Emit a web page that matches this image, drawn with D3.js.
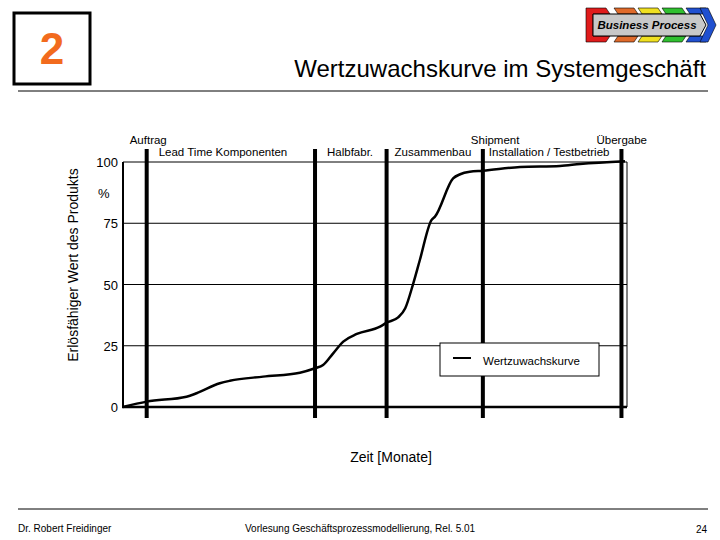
<!DOCTYPE html>
<html><head><meta charset="utf-8">
<script src="https://cdn.jsdelivr.net/npm/d3@7"></script>
<style>
html,body{margin:0;padding:0;background:#fff;}
svg{display:block;font-family:"Liberation Sans",Arial,sans-serif;}
</style></head>
<body>
<svg id="c" width="720" height="540"></svg>
<script>
// ---- data ----
const timePoints = [0, 4.7, 12.6, 14.6, 19.2, 21.2, 27.8, 35.1, 38.1, 39.7, 41.7, 43.7, 46.4, 51.0, 52.3, 54.6, 56.0, 57.6, 58.9, 61.2, 61.9, 65.5, 66.9, 68.8, 71.4, 78.8, 86.7, 90.7, 99.6];
const valuePoints = [0, 2.2, 4.2, 5.6, 9.7, 10.7, 12.4, 14.0, 15.8, 17.1, 21.9, 26.7, 29.8, 32.8, 34.4, 36.6, 40.3, 50.5, 60.0, 76.3, 77.7, 93.3, 95.0, 96.0, 96.4, 98.0, 98.4, 99.2, 100.3];
const phasePositions = [4.7, 38.1, 52.3, 71.4, 98.9];
const milestoneLabels = ["Auftrag", "Shipment", "Übergabe"];
const milestoneAt = [4.7, 71.4, 98.9];
const phaseLabels = ["Lead Time Komponenten", "Halbfabr.", "Zusammenbau", "Installation / Testbetrieb"];
const phaseLabelAt = [4.7, 38.1, 52.3, 71.4];
const yTicks = [0, 25, 50, 75, 100];
const seriesName = "Wertzuwachskurve";

const svg = d3.select("#c");
const x = d3.scaleLinear().domain([0, 100]).range([123, 627]);
const y = d3.scaleLinear().domain([0, 100]).range([407, 162]);

// ---- header ----
svg.append("rect").attr("x", 14).attr("y", 13).attr("width", 76).attr("height", 71)
  .attr("fill", "none").attr("stroke", "#000").attr("stroke-width", 3);
svg.append("text").attr("x", 52).attr("y", 64).attr("text-anchor", "middle")
  .attr("font-size", 44).attr("font-weight", "bold").attr("fill", "#f26b1d").text("2");
svg.append("text").attr("x", 706).attr("y", 77).attr("text-anchor", "end")
  .attr("font-size", 24).attr("fill", "#000").text("Wertzuwachskurve im Systemgeschäft");
svg.append("line").attr("x1", 18).attr("x2", 708).attr("y1", 91).attr("y2", 91)
  .attr("stroke", "#000").attr("stroke-width", 1);

// logo
const logo = svg.append("g");
const cols = ["#e01b1b", "#e06a2a", "#f0e020", "#30c030", "#2050d0"];
const segX = [590, 614, 638, 662, 686];
segX.forEach((sx, i) => {
  if (i === 0) return;
  logo.append("polygon").attr("points", `${sx},8 ${sx+20},8 ${sx+24},14 ${sx+4},14`).attr("fill", cols[i]).attr("stroke", "#000").attr("stroke-width", 0.6);
  logo.append("polygon").attr("points", `${sx+4},36 ${sx+24},36 ${sx+20},42 ${sx},42`).attr("fill", cols[i]).attr("stroke", "#000").attr("stroke-width", 0.6);
});
logo.append("polygon").attr("points", "586,8 606,8 610,14 593,14 593,36 610,36 606,42 586,42")
  .attr("fill", cols[0]).attr("stroke", "#000").attr("stroke-width", 0.6);
logo.append("polygon").attr("points", "700,8 708,8 716,25 708,42 700,42 708,25")
  .attr("fill", cols[4]).attr("stroke", "#000").attr("stroke-width", 0.6);
logo.append("polygon").attr("points", "593,14 700,14 706,25 700,36 593,36")
  .attr("fill", "#c8c8c8").attr("stroke", "#000").attr("stroke-width", 1);
logo.append("text").attr("x", 647).attr("y", 29).attr("text-anchor", "middle")
  .attr("font-size", 11.5).attr("font-weight", "bold").attr("font-style", "italic").text("Business Process");

// ---- grid ----
svg.append("g").selectAll("line").data(yTicks.filter(d => d > 0)).join("line")
  .attr("x1", x(0)).attr("x2", x(100)).attr("y1", d => y(d)).attr("y2", d => y(d))
  .attr("stroke", "#000").attr("stroke-width", 1);
svg.append("line").attr("x1", x(100)).attr("x2", x(100)).attr("y1", y(100)).attr("y2", y(0))
  .attr("stroke", "#000").attr("stroke-width", 1);
svg.append("line").attr("x1", x(0)).attr("x2", x(0)).attr("y1", y(100)).attr("y2", y(0))
  .attr("stroke", "#000").attr("stroke-width", 2);
svg.append("line").attr("x1", x(0) - 1).attr("x2", x(100)).attr("y1", y(0)).attr("y2", y(0))
  .attr("stroke", "#000").attr("stroke-width", 2.5);

// y tick labels
svg.append("g").selectAll("text").data(yTicks).join("text")
  .attr("x", 118).attr("y", d => y(d) + 5).attr("text-anchor", "end")
  .attr("font-size", 13).text(d => d);
svg.append("text").attr("x", 98).attr("y", y(87.5) + 5).attr("font-size", 13).text("%");

// axis titles
svg.append("text").attr("transform", `translate(78,265) rotate(-90)`)
  .attr("text-anchor", "middle").attr("font-size", 14).text("Erlösfähiger Wert des Produkts");
svg.append("text").attr("x", 391).attr("y", 462).attr("text-anchor", "middle")
  .attr("font-size", 14).text("Zeit [Monate]");

// phase markers
svg.append("g").selectAll("line").data(phasePositions).join("line")
  .attr("x1", d => x(d)).attr("x2", d => x(d)).attr("y1", 149).attr("y2", 418)
  .attr("stroke", "#000").attr("stroke-width", 4);

// labels
svg.append("g").selectAll("text").data(milestoneLabels).join("text")
  .attr("x", (d, i) => x(milestoneAt[i]) + [-17, -12, -25][i]).attr("y", 144)
  .attr("font-size", 11.5).text(d => d);
svg.append("g").selectAll("text").data(phaseLabels).join("text")
  .attr("x", (d, i) => x(phaseLabelAt[i]) + [12, 12, 8, 6][i]).attr("y", 156)
  .attr("font-size", 11.5).text(d => d);

// curve
const line = d3.line().x((d, i) => x(timePoints[i])).y(d => y(d)).curve(d3.curveMonotoneX);
svg.append("path").datum(valuePoints).attr("d", line)
  .attr("fill", "none").attr("stroke", "#000").attr("stroke-width", 2.5).attr("stroke-linejoin", "round");

// legend
const lg = svg.append("g");
lg.append("rect").attr("x", 440).attr("y", 343).attr("width", 159).attr("height", 33)
  .attr("fill", "#fff").attr("stroke", "#000").attr("stroke-width", 1);
lg.append("line").attr("x1", 453).attr("x2", 471).attr("y1", 358).attr("y2", 358)
  .attr("stroke", "#000").attr("stroke-width", 2);
lg.append("text").attr("x", 483).attr("y", 365).attr("font-size", 11.5).text(seriesName);

// footer
svg.append("line").attr("x1", 18).attr("x2", 708).attr("y1", 509).attr("y2", 509)
  .attr("stroke", "#000").attr("stroke-width", 1);
svg.append("text").attr("x", 18).attr("y", 532).attr("font-size", 10).text("Dr. Robert Freidinger");
svg.append("text").attr("x", 245).attr("y", 532).attr("font-size", 10).text("Vorlesung Geschäftsprozessmodellierung, Rel. 5.01");
svg.append("text").attr("x", 707).attr("y", 533).attr("text-anchor", "end").attr("font-size", 10).text("24");
</script>
</body></html>
